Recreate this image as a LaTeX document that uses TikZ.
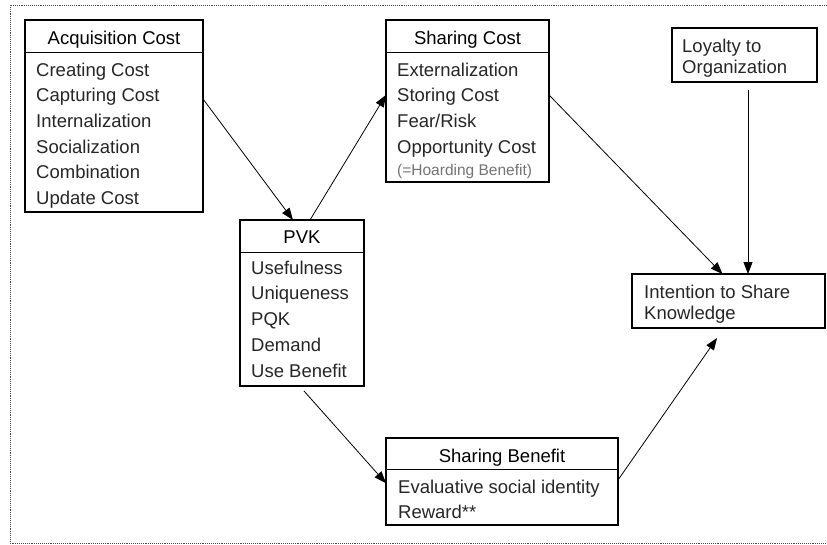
\documentclass[tikz,border=0pt]{standalone}
\usepackage{fontspec}
\setmainfont{Liberation Sans}
\usetikzlibrary{arrows.meta}
\tikzset{
  box/.style={draw=black, line width=2.6pt, inner sep=0pt, outer sep=0pt, fill=none},
  divider/.style={draw=black, line width=0.9pt},
  ttl/.style={inner sep=0pt, anchor=base, font=\fontsize{18.5}{21}\selectfont},
  itm/.style={inner sep=0pt, anchor=base west, font=\fontsize{18.5}{21}\selectfont, text=black!85},
  small/.style={inner sep=0pt, anchor=base west, font=\fontsize{15.5}{18}\selectfont, text=black!55},
  arr/.style={draw=black, line width=0.8pt, -{Triangle[length=12pt,width=9pt]}},
  frame/.style={draw=black!70, line width=0.9pt, densely dotted}
}
\begin{document}
\begin{tikzpicture}[x=1pt,y=-1pt]
\useasboundingbox (0,0) rectangle (827,544);
% outer frame (right side cut off)
\draw[frame] (827,5) -- (10,5) -- (10,543) -- (827,543);

% Acquisition Cost
\node[box, minimum width=178pt, minimum height=192pt] (acq) at (114,116) {};
\draw[divider] (acq.west |- 0,52) -- (acq.east |- 0,52);
\node[ttl] (acqT) at (114,44) {Acquisition Cost};
\node[itm] (a1) at (36,76) {Creating Cost};
\node[itm] (a2) at (36,101.7) {Capturing Cost};
\node[itm] (a3) at (36,127.4) {Internalization};
\node[itm] (a4) at (36,153.1) {Socialization};
\node[itm] (a5) at (36,178.8) {Combination};
\node[itm] (a6) at (36,204.5) {Update Cost};

% Sharing Cost
\node[box, minimum width=163pt, minimum height=162pt] (sc) at (467.5,101) {};
\draw[divider] (sc.west |- 0,52) -- (sc.east |- 0,52);
\node[ttl] (scT) at (467.5,44) {Sharing Cost};
\node[itm] (s1) at (397,76) {Externalization};
\node[itm] (s2) at (397,101.7) {Storing Cost};
\node[itm] (s3) at (397,127.4) {Fear/Risk};
\node[itm] (s4) at (397,153.1) {Opportunity Cost};
\node[small] (s5) at (397,175.5) {(=Hoarding Benefit)};

% Loyalty
\node[box, minimum width=145pt, minimum height=54pt] (loy) at (744.5,55) {};
\node[itm] (l1) at (682,52) {Loyalty to};
\node[itm] (l2) at (682,73) {Organization};

% PVK
\node[box, minimum width=124pt, minimum height=166pt] (pvk) at (302,303) {};
\draw[divider] (pvk.west |- 0,252) -- (pvk.east |- 0,252);
\node[ttl] (pvkT) at (302,243) {PVK};
\node[itm] (p1) at (251,274) {Usefulness};
\node[itm] (p2) at (251,299.8) {Uniqueness};
\node[itm] (p3) at (251,325.6) {PQK};
\node[itm] (p4) at (251,351.4) {Demand};
\node[itm] (p5) at (251,377.2) {Use Benefit};

% Intention
\node[box, minimum width=193pt, minimum height=54pt] (int) at (728.5,301) {};
\node[itm] (i1) at (644,298) {Intention to Share};
\node[itm] (i2) at (644,319) {Knowledge};

% Sharing Benefit
\node[box, minimum width=232pt, minimum height=87pt] (sb) at (502,481.5) {};
\draw[divider] (sb.west |- 0,469) -- (sb.east |- 0,469);
\node[ttl] (sbT) at (502,462) {Sharing Benefit};
\node[itm] (b1) at (398,493) {Evaluative social identity};
\node[itm] (b2) at (398,518) {Reward**};

% connectors
\draw[arr] ([yshift=-2pt]acq.east |- a2) -- ([xshift=-9pt]pvk.north);
\draw[arr] ([xshift=8pt]pvk.north) -- ([yshift=2pt]sc.west |- s2);
\draw[arr] ([yshift=2pt]sc.east |- s2) -- ([xshift=-6pt]int.north);
\draw[arr] ([xshift=3.5pt,yshift=-8pt]loy.south) -- ([xshift=3.5pt]loy.south |- int.north);
\draw[arr] ([xshift=2pt,yshift=-5pt]pvk.south) -- ([yshift=5pt]sb.west |- b1);
\draw[arr] ([yshift=1.5pt]sb.east) -- ([xshift=-11.5pt,yshift=-10pt]int.south);
\end{tikzpicture}
\end{document}
